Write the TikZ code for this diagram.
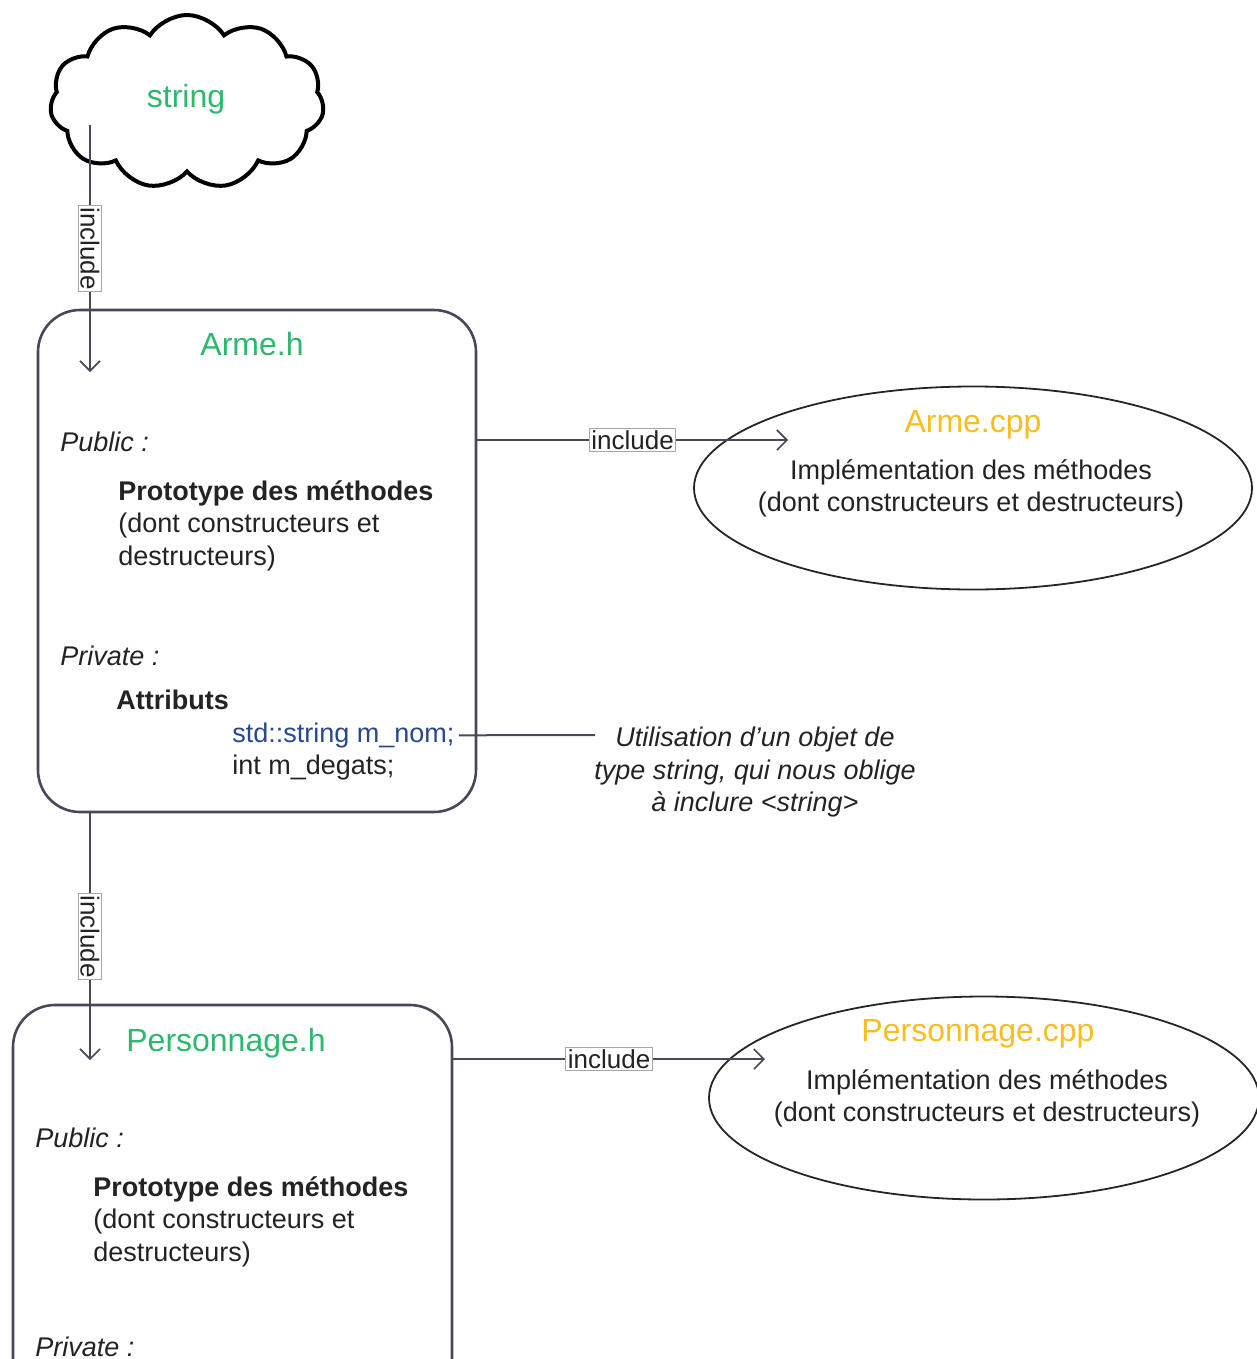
\documentclass[tikz,border=0pt]{standalone}
\usepackage{fontspec}
\setmainfont{Liberation Sans}
\usetikzlibrary{shapes.symbols,shapes.geometric,arrows.meta}
\definecolor{tgreen}{RGB}{46,184,110}
\definecolor{torange}{RGB}{248,190,30}
\definecolor{tblue}{RGB}{40,72,140}
\definecolor{lcol}{RGB}{72,72,88}
\definecolor{tcol}{RGB}{35,35,35}
\tikzset{
  hbox/.style={draw=lcol, line width=1.3pt, rounded corners=21pt, inner sep=0pt},
  cppell/.style={draw=black!85, line width=0.9pt, ellipse, inner sep=0pt},
  arr/.style={draw=lcol, line width=1.3pt, -{Straight Barb[length=5pt,width=10pt,line width=0.8pt]}},
  plain/.style={draw=lcol, line width=1.3pt},
  lbl/.style={draw=black!35, line width=0.5pt, fill=white, inner sep=1pt, font=\fontsize{13}{15}\selectfont, text=tcol},
  ttl/.style={font=\fontsize{16}{19}\selectfont},
  body/.style={font=\fontsize{13.5}{16.25}\selectfont, text=tcol, align=left, inner sep=0pt},
}
\begin{document}
\begin{tikzpicture}[x=0.5pt,y=-0.5pt]
\useasboundingbox (0,0) rectangle (1257,1359);
\clip (0,0) rectangle (1257,1359);
\fill[white] (0,0) rectangle (1257,1359);

% cloud
\node[cloud, draw=black, line width=2pt, cloud puffs=11, cloud puff arc=115, aspect=1.6,
      minimum width=137pt, minimum height=87pt, inner sep=0pt] (cloud) at (187,102) {};
\node[ttl, text=tgreen, anchor=mid] (stringt) at (186,102) {string};

% Arme.h box
\node[hbox, minimum width=219pt, minimum height=251pt] (arme) at (257,561) {};
\node[ttl, text=tgreen, anchor=mid] (armet) at (252,350) {Arme.h};
\node[body, anchor=mid west, font=\fontsize{13.5}{16.25}\selectfont\itshape] (apub) at (60,446) {Public :};
\node[body, anchor=north west] (aproto) at (118,480) {\textbf{Prototype des méthodes}\\(dont constructeurs et\\destructeurs)};
\node[body, anchor=mid west, font=\fontsize{13.5}{16.25}\selectfont\itshape] (apriv) at (60,660) {Private :};
\node[body, anchor=mid west, font=\fontsize{13.5}{16.25}\selectfont\bfseries] (aattr) at (116,704) {Attributs};
\node[body, anchor=mid west, text=tblue] (anom) at (232,737) {std::string m\_nom;};
\node[body, anchor=mid west] (adeg) at (232,769) {int m\_degats;};

% annotation
\node[body, align=center, anchor=north, font=\fontsize{13.5}{16.25}\selectfont\itshape] (annot) at (755,727) {Utilisation d'un objet de\\type string, qui nous oblige\\à inclure <string>};
\coordinate (annl) at (595,735);
\draw[plain, line width=1pt] ([xshift=2pt]anom.east) -- (annl);

% Arme.cpp
\node[cppell, minimum width=279pt, minimum height=101.5pt] (armecpp) at (973,488) {};
\node[ttl, text=torange, anchor=mid] (armecppt) at (973,427) {Arme.cpp};
\node[body, align=center, anchor=north] (armecppb) at (971,459) {Implémentation des méthodes\\(dont constructeurs et destructeurs)};

% Personnage.h box
\node[hbox, minimum width=219.5pt, minimum height=215pt] (perso) at (232.5,1220) {};
\node[ttl, text=tgreen, anchor=mid] (persot) at (226,1046) {Personnage.h};
\node[body, anchor=mid west, font=\fontsize{13.5}{16.25}\selectfont\itshape] (ppub) at (35,1142) {Public :};
\node[body, anchor=north west] (pproto) at (93,1176) {\textbf{Prototype des méthodes}\\(dont constructeurs et\\destructeurs)};
\node[body, anchor=mid west, font=\fontsize{13.5}{16.25}\selectfont\itshape] (ppriv) at (35,1351) {Private :};

% Personnage.cpp
\node[cppell, minimum width=275pt, minimum height=101.5pt] (persocpp) at (984,1098) {};
\node[ttl, text=torange, anchor=mid] (persocppt) at (978,1036) {Personnage.cpp};
\node[body, align=center, anchor=north] (persocppb) at (987,1069) {Implémentation des méthodes\\(dont constructeurs et destructeurs)};

% connectors
\coordinate (c1s) at (90,125);
\coordinate (c1e) at (90,372);
\draw[arr] (c1s) -- node[lbl, rotate=-90, pos=0.5] (l1) {include} (c1e);

\coordinate (c2e) at (788,440);
\draw[arr] (arme.east |- c2e) -- node[lbl, pos=0.5] (l2) {include} (c2e);

\coordinate (c3e) at (90,1060);
\draw[arr] (arme.south -| c3e) -- node[lbl, rotate=-90, pos=0.5] (l3) {include} (c3e);

\coordinate (c4e) at (765,1059);
\draw[arr] (perso.east |- c4e) -- node[lbl, pos=0.5] (l4) {include} (c4e);
\end{tikzpicture}
\end{document}
